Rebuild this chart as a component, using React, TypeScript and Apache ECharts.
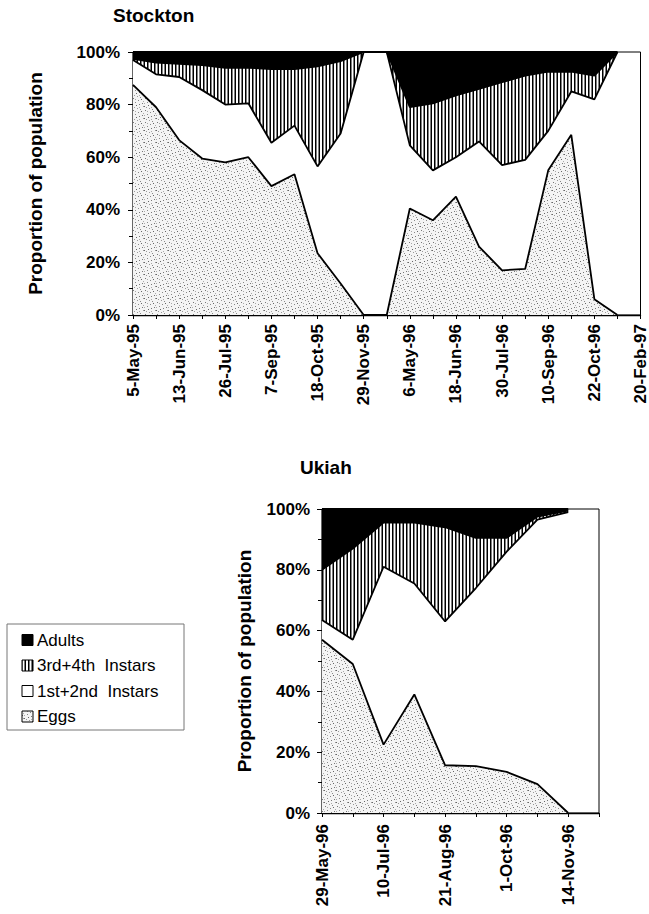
import React, { useEffect, useRef } from 'react';
import * as echarts from 'echarts';

// Tick labels
const STOCKTON_DATES = ['5-May-95', '13-Jun-95', '26-Jul-95', '7-Sep-95', '18-Oct-95', '29-Nov-95', '6-May-96', '18-Jun-96', '30-Jul-96', '10-Sep-96', '22-Oct-96', '20-Feb-97'];
const UKIAH_DATES = ['29-May-96', '10-Jul-96', '21-Aug-96', '1-Oct-96', '14-Nov-96'];
const PERCENT_TICKS = [0, 20, 40, 60, 80, 100];

// Stockton samples (% of population per stage)
const stocktonEggs = [87.5, 79, 66.5, 59.5, 58, 60, 49, 53.5, 23.5, 12, 0, 0, 40.5, 36, 45, 26, 17, 17.5, 55, 68.5, 6, 0];
const stocktonInst12 = [9.5, 12.5, 24, 26, 22, 20.5, 16.5, 18.5, 33, 57, 100, 100, 24, 19, 15, 40, 40, 41.5, 15, 16.5, 76, 100];
const stocktonInst34 = [0.4, 4.5, 5, 9.5, 14, 13.5, 28, 21.5, 38, 27.5, 0, 0, 14.5, 25.5, 23.5, 20, 31.5, 32, 22.5, 7.5, 9, 0];
const stocktonAdults = [2.6, 4, 4.5, 5, 6, 6, 6.5, 6.5, 5.5, 3.5, 0, 0, 21, 19.5, 16.5, 14, 11.5, 9, 7.5, 7.5, 9, 0];

// Ukiah samples (% of population per stage)
const ukiahEggs = [57, 49, 22.5, 39, 15.7, 15.4, 13.5, 9.5, 0];
const ukiahInst12 = [6.5, 8, 58.5, 36.5, 47.3, 58.6, 72.5, 87, 99];
const ukiahInst34 = [16.5, 30, 14.5, 20, 31, 16.5, 4.5, 1, 0.5];
const ukiahAdults = [20, 13, 4.5, 4.5, 6, 9.5, 9.5, 2.5, 0.5];

const STAGES = ['Adults', '3rd+4th Instars', '1st+2nd Instars', 'Eggs'];

const FONT = '"Liberation Sans", Arial, Helvetica, sans-serif';

function makeTile(w: number, h: number, draw: (ctx: CanvasRenderingContext2D) => void) {
  const c = document.createElement('canvas');
  c.width = w;
  c.height = h;
  const ctx = c.getContext('2d') as CanvasRenderingContext2D;
  draw(ctx);
  return { image: c, repeat: 'repeat', imageWidth: w, imageHeight: h } as any;
}

function buildFills() {
  // vertical hatching for the late instars
  const hatch = makeTile(7, 8, (ctx) => {
    ctx.fillStyle = '#fff';
    ctx.fillRect(0, 0, 7, 8);
    ctx.fillStyle = '#000';
    ctx.fillRect(0, 0, 1.5, 8);
    ctx.fillRect(3.5, 0, 1.5, 8);
  });
  // light stipple for eggs
  const dots: [number, number, string][] = [
    [1, 2, '#777'], [5, 0, '#999'], [9, 3, '#666'], [3, 6, '#888'], [7, 8, '#777'], [11, 10, '#999'],
    [0, 10, '#666'], [6, 4, '#888'], [10, 7, '#777'], [2, 11, '#999'], [8, 1, '#888'], [4, 9, '#666'],
    [7, 11, '#aaa'], [11, 5, '#aaa'], [3, 3, '#aaa'], [0, 7, '#aaa'],
  ];
  const stipple = makeTile(12, 12, (ctx) => {
    ctx.fillStyle = '#f4f4f4';
    ctx.fillRect(0, 0, 12, 12);
    for (const [x, y, col] of dots) {
      ctx.fillStyle = col;
      ctx.fillRect(x, y, 1, 1);
    }
  });
  return {
    'Adults': '#000',
    '3rd+4th Instars': hatch,
    '1st+2nd Instars': '#fff',
    'Eggs': stipple,
  } as Record<string, any>;
}

function stageSeries(gridIndex: number, stack: string, cols: Record<string, number[]>, fills: Record<string, any>) {
  const order = ['Eggs', '1st+2nd Instars', '3rd+4th Instars', 'Adults'];
  return order.map((name) => ({
    type: 'line',
    name,
    xAxisIndex: gridIndex,
    yAxisIndex: gridIndex,
    stack,
    data: cols[name],
    showSymbol: false,
    symbol: 'none',
    lineStyle: { color: '#000', width: 1.8 },
    areaStyle: { color: fills[name], opacity: 1 },
    itemStyle: { color: '#000' },
  }));
}

function catAxis(gridIndex: number, count: number, labels: string[], margin: number) {
  return {
    type: 'category',
    gridIndex,
    boundaryGap: false,
    data: Array.from({ length: count }, (_, i) => String(i)),
    axisLine: { show: true, lineStyle: { color: '#000', width: 1.4 } },
    axisTick: { show: true, interval: 0, inside: false, length: 4, lineStyle: { color: '#000' } },
    axisLabel: {
      interval: 0,
      rotate: 90,
      margin,
      color: '#000',
      fontFamily: FONT,
      fontSize: 17,
      fontWeight: 'bold',
      formatter: (_v: string, idx: number) => (idx % 2 === 0 && labels[idx / 2] ? labels[idx / 2] : ''),
    },
    splitLine: { show: false },
  };
}

function pctAxis(gridIndex: number, nameGap: number, margin: number) {
  return {
    type: 'value',
    gridIndex,
    min: PERCENT_TICKS[0],
    max: PERCENT_TICKS[PERCENT_TICKS.length - 1],
    interval: PERCENT_TICKS[1] - PERCENT_TICKS[0],
    name: 'Proportion of population',
    nameLocation: 'middle',
    nameRotate: 90,
    nameGap,
    nameTextStyle: { color: '#000', fontFamily: FONT, fontSize: 19, fontWeight: 'bold' },
    axisLine: { show: true, lineStyle: { color: '#000', width: 1.4 } },
    axisTick: { show: true, inside: false, length: 5, lineStyle: { color: '#000' } },
    minorTick: { show: true, splitNumber: 2, length: 4, lineStyle: { color: '#000' } },
    axisLabel: { margin, color: '#000', fontFamily: FONT, fontSize: 17, fontWeight: 'bold', formatter: '{value}%' },
    splitLine: { show: false },
    minorSplitLine: { show: false },
  };
}

export default function App() {
  const ref = useRef<HTMLDivElement>(null);

  useEffect(() => {
    if (!ref.current) return;
    const chart = echarts.init(ref.current, null, { renderer: 'svg' });
    const fills = buildFills();

    const stockton = {
      'Eggs': stocktonEggs,
      '1st+2nd Instars': stocktonInst12,
      '3rd+4th Instars': stocktonInst34,
      'Adults': stocktonAdults,
    };
    const ukiah = {
      'Eggs': ukiahEggs,
      '1st+2nd Instars': ukiahInst12,
      '3rd+4th Instars': ukiahInst34,
      'Adults': ukiahAdults,
    };

    const legendTop = 624;
    const rowGap = 25.5;
    const legendItems: any[] = [];
    STAGES.forEach((name, i) => {
      const cy = legendTop + 16 + i * rowGap;
      legendItems.push({
        type: 'rect',
        shape: { x: 22, y: cy - 5.5, width: 11, height: 11 },
        style: { fill: fills[name], stroke: '#000', lineWidth: 1 },
      });
      legendItems.push({
        type: 'text',
        x: 37,
        y: cy,
        style: {
          text: name === '3rd+4th Instars' ? '3rd+4th  Instars' : name === '1st+2nd Instars' ? '1st+2nd  Instars' : name,
          font: `17px ${FONT}`,
          fill: '#000',
          verticalAlign: 'middle',
        },
      });
    });

    chart.setOption({
      animation: false,
      backgroundColor: '#fff',
      title: [
        { text: 'Stockton', left: 113, top: 6, padding: 0, textStyle: { fontFamily: FONT, fontSize: 19, fontWeight: 'bold', color: '#000' } },
        { text: 'Ukiah', left: 300, top: 458, padding: 0, textStyle: { fontFamily: FONT, fontSize: 19, fontWeight: 'bold', color: '#000' } },
      ],
      grid: [
        { left: 133, top: 52, width: 509, height: 263, show: true, borderColor: '#000', borderWidth: 1, backgroundColor: 'transparent' },
        { left: 322, top: 509, width: 277, height: 304, show: true, borderColor: '#000', borderWidth: 1, backgroundColor: 'transparent' },
      ],
      xAxis: [
        catAxis(0, STOCKTON_DATES.length * 2 - 1, STOCKTON_DATES, 9),
        catAxis(1, UKIAH_DATES.length * 2, UKIAH_DATES, 11),
      ],
      yAxis: [pctAxis(0, 88, 13), pctAxis(1, 68, 12)],
      series: [
        ...stageSeries(0, 'stockton', stockton, fills),
        ...stageSeries(1, 'ukiah', ukiah, fills),
      ],
      graphic: [
        {
          type: 'rect',
          shape: { x: 7, y: legendTop, width: 177, height: 106 },
          style: { fill: '#fff', stroke: '#777', lineWidth: 1 },
        },
        ...legendItems,
      ],
    });

    return () => chart.dispose();
  }, []);

  return <div ref={ref} style={{ position: 'absolute', left: 0, top: 0, width: 649, height: 914 }} />;
}
